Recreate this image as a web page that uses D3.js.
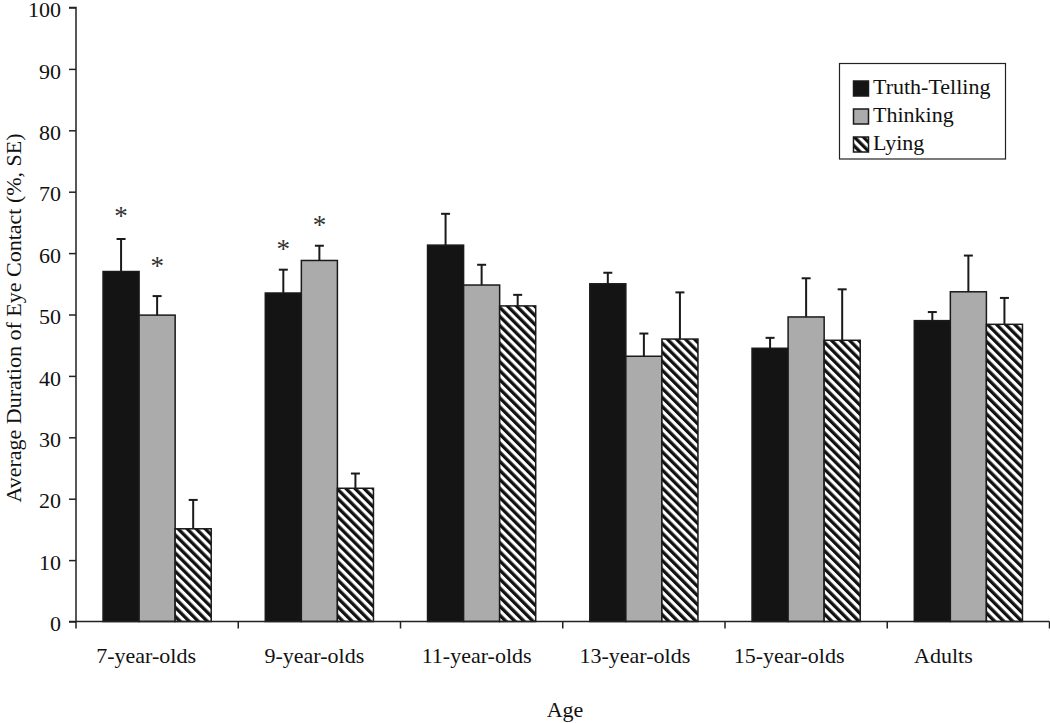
<!DOCTYPE html>
<html>
<head>
<meta charset="utf-8">
<script src="https://cdn.jsdelivr.net/npm/d3@7"></script>
<style>
  html, body { margin: 0; padding: 0; background: #fff; }
  svg { display: block; font-family: "Liberation Serif", "Times New Roman", serif; }
</style>
</head>
<body>
<svg id="chart" width="1050" height="723"></svg>
<script>
// ---- data ----
const categories = ["7-year-olds", "9-year-olds", "11-year-olds", "13-year-olds", "15-year-olds", "Adults"];
const seriesNames = ["Truth-Telling", "Thinking", "Lying"];
const truthTelling = [57.0, 53.5, 61.3, 55.0, 44.5, 49.0];
const thinking     = [49.9, 58.8, 54.8, 43.2, 49.6, 53.7];
const lying        = [15.1, 21.7, 51.4, 46.0, 45.8, 48.4];
const truthSE      = [5.3, 3.8, 5.1, 1.8, 1.7, 1.4];
const thinkingSE   = [3.1, 2.4, 3.3, 3.7, 6.3, 5.9];
const lyingSE      = [4.7, 2.4, 1.8, 7.6, 8.3, 4.3];
// significance markers: [category, series, marker height in %]
const stars = [["7-year-olds", "Truth-Telling", 66.5], ["7-year-olds", "Thinking", 58.4],
               ["9-year-olds", "Truth-Telling", 61.2], ["9-year-olds", "Thinking", 65.1]];
const yTicks = [0, 10, 20, 30, 40, 50, 60, 70, 80, 90, 100];
const xTitle = "Age";
const yTitle = "Average Duration of Eye Contact (%, SE)";

const valuesBySeries = [truthTelling, thinking, lying];
const seBySeries = [truthSE, thinkingSE, lyingSE];
const rows = [];
categories.forEach((c, i) => seriesNames.forEach((s, j) => {
  rows.push({cat: c, series: s, value: valuesBySeries[j][i], se: seBySeries[j][i]});
}));

// ---- layout ----
const svg = d3.select("#chart");
const plotLeft = 76, plotRight = 1049.5, plotTop = 7.5, plotBottom = 621.5;
const labelShift = [-11, -5, -5, -9, -17, -25]; // horizontal nudges of category labels (px)

const y = d3.scaleLinear().domain([0, 100]).range([plotBottom, plotTop]);
const x0 = d3.scaleBand().domain(categories).range([plotLeft, plotRight]).paddingInner(0).paddingOuter(0);
const x1 = d3.scaleBand().domain(seriesNames).range([0, x0.bandwidth()]).paddingInner(0).paddingOuter(0.75);

const defs = svg.append("defs");
const pat = defs.append("pattern")
  .attr("id", "hatch").attr("patternUnits", "userSpaceOnUse")
  .attr("width", 6.4).attr("height", 12)
  .attr("patternTransform", "rotate(-45)");
pat.append("rect").attr("width", 6.4).attr("height", 12).attr("fill", "#fff");
pat.append("rect").attr("width", 3.3).attr("height", 12).attr("fill", "#111");

const fills = {"Truth-Telling": "#141414", "Thinking": "#ababab", "Lying": "url(#hatch)"};

// bars
svg.append("g").selectAll("rect").data(rows).join("rect")
  .attr("x", d => x0(d.cat) + x1(d.series))
  .attr("y", d => y(d.value))
  .attr("width", x1.bandwidth())
  .attr("height", d => y(0) - y(d.value))
  .attr("fill", d => fills[d.series])
  .attr("stroke", "#1a1a1a")
  .attr("stroke-width", 1.5);

// error bars (upper only)
const eg = svg.append("g").attr("stroke", "#1a1a1a").attr("stroke-width", 2);
rows.forEach(d => {
  const cx = x0(d.cat) + x1(d.series) + x1.bandwidth() / 2;
  eg.append("line").attr("x1", cx).attr("x2", cx).attr("y1", y(d.value)).attr("y2", y(d.value + d.se));
  eg.append("line").attr("x1", cx - 4.5).attr("x2", cx + 4.5).attr("y1", y(d.value + d.se)).attr("y2", y(d.value + d.se));
});

// stars
svg.append("g").selectAll("text").data(stars).join("text")
  .attr("x", d => x0(d[0]) + x1(d[1]) + x1.bandwidth() / 2)
  .attr("y", d => y(d[2]) + 12)
  .attr("text-anchor", "middle")
  .attr("font-size", 27)
  .attr("fill", "#333")
  .text("*");

// y axis
const yAxis = d3.axisLeft(y).tickValues(yTicks).tickSize(7).tickPadding(8).tickFormat(d3.format("d"));
const gy = svg.append("g").attr("transform", `translate(${plotLeft},0)`).call(yAxis);
gy.select(".domain").attr("stroke", "#222").attr("stroke-width", 1.5).attr("d", `M-7,${plotTop}H0V${plotBottom}H-7`);
gy.selectAll(".tick line").attr("stroke", "#222").attr("stroke-width", 1.5);
gy.selectAll(".tick text").attr("font-size", 22).attr("font-family", "Liberation Serif, serif").attr("fill", "#111").attr("dy", "0.42em");

// x axis line
svg.append("line").attr("x1", plotLeft).attr("x2", plotRight).attr("y1", plotBottom).attr("y2", plotBottom)
  .attr("stroke", "#222").attr("stroke-width", 1.5);
// boundary ticks
const boundaries = categories.map(c => x0(c)).concat([x0(categories[categories.length - 1]) + x0.bandwidth()]);
svg.append("g").selectAll("line").data(boundaries).join("line")
  .attr("x1", d => d).attr("x2", d => d).attr("y1", plotBottom).attr("y2", plotBottom + 7)
  .attr("stroke", "#222").attr("stroke-width", 1.5);
// category labels
svg.append("g").selectAll("text").data(categories).join("text")
  .attr("x", (d, i) => x0(d) + x0.bandwidth() / 2 + labelShift[i])
  .attr("y", 663)
  .attr("text-anchor", "middle")
  .attr("font-size", 22).attr("fill", "#111")
  .text(d => d);

// axis titles
svg.append("text").attr("x", 565).attr("y", 717).attr("text-anchor", "middle")
  .attr("font-size", 22).attr("fill", "#111").text(xTitle);
svg.append("text").attr("transform", "translate(21,318) rotate(-90)").attr("text-anchor", "middle")
  .attr("font-size", 22).attr("fill", "#111").text(yTitle);

// legend
const lg = svg.append("g");
lg.append("rect").attr("x", 839.5).attr("y", 63.5).attr("width", 166).attr("height", 95.5)
  .attr("fill", "#fff").attr("stroke", "#222").attr("stroke-width", 1.2);
seriesNames.forEach((s, i) => {
  const yy = 81 + i * 28;
  lg.append("rect").attr("x", 853.5).attr("y", yy).attr("width", 15).attr("height", 15)
    .attr("fill", fills[s]).attr("stroke", "#1a1a1a").attr("stroke-width", 1.5);
  lg.append("text").attr("x", 873).attr("y", yy + 13).attr("font-size", 22).attr("fill", "#111").text(s);
});
</script>
</body>
</html>
